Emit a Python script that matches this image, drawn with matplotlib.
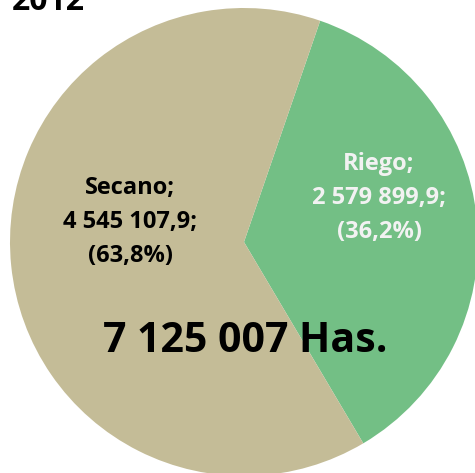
import matplotlib
matplotlib.use("Agg")
import matplotlib.pyplot as plt

categories = ["Riego", "Secano"]
values = [2579899.9, 4545107.9]
percent_labels = ["36,2%", "63,8%"]
value_labels = ["2 579 899,9", "4 545 107,9"]
total_label = "7 125 007 Has."
title = "2012"
colors = ["#73BF85", "#C4BC97"]
text_colors = ["#F2F2F2", "#000000"]

W, H = 475, 473
cx, cy, R = 244, 242, 234

fig = plt.figure(figsize=(W / 100, H / 100), dpi=100)
ax = fig.add_axes([0, 0, 1, 1])
ax.pie(values, colors=colors, startangle=71, counterclock=False,
       radius=1.0, center=(0, 0), wedgeprops=dict(linewidth=0))
ax.set_xlim(-cx / R, (W - cx) / R)
ax.set_ylim(-(H - cy) / R, cy / R)
ax.set_aspect("equal")
ax.axis("off")

font = "Open Sans"

def px(x, y):
    return ((x - cx) / R, (cy - y) / R)

pos = [(379, 198), (130, 222)]
for cat, v, p, (x, y), tc in zip(categories, value_labels, percent_labels, pos, text_colors):
    ax.text(*px(x, y), f"{cat};\n{v};\n({p})", ha="center", va="center",
            fontsize=17, fontweight="bold", color=tc, family=font,
            linespacing=1.53)

ax.text(*px(245, 342), total_label, ha="center", va="center",
        fontsize=29.5, fontweight="bold", color="black", family=font)

fig.text(12 / W, 1 - 10 / H, title, ha="left", va="baseline",
         fontsize=23, fontweight="bold", family=font)

fig.savefig("out.png", dpi=100)
